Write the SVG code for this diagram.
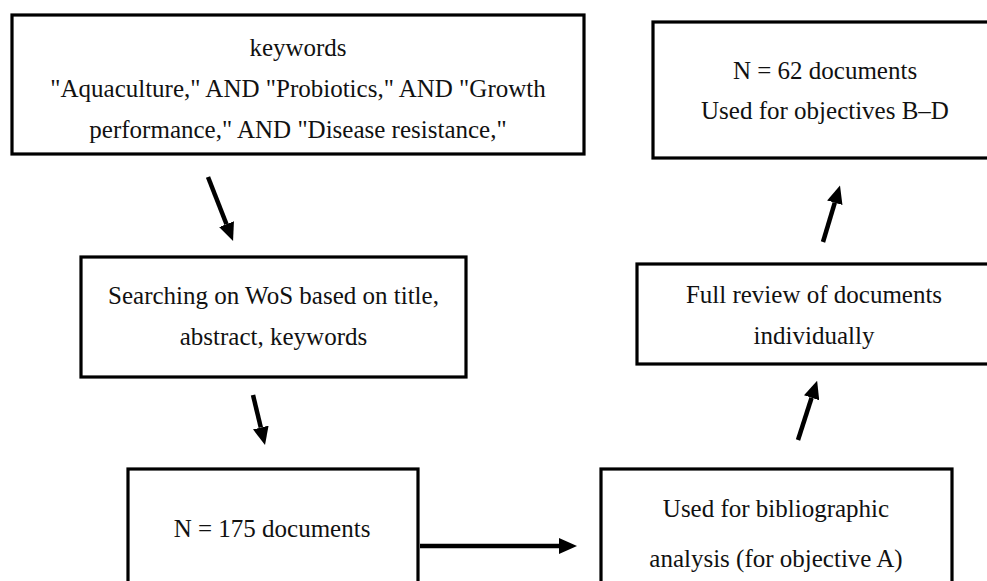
<svg xmlns="http://www.w3.org/2000/svg" width="987" height="581" viewBox="0 0 987 581">
  <style>
    .box { fill: #ffffff; stroke: #000000; stroke-width: 3.2; }
    .label { font-family: "Liberation Serif", "DejaVu Serif", serif; font-size: 25px; fill: #111111; text-anchor: middle; }
    .conn { stroke: #000000; stroke-width: 4.5; fill: none; marker-end: url(#head); }
  </style>
  <defs>
    <marker id="head" viewBox="0 0 18 16" refX="0" refY="8" markerWidth="18" markerHeight="16" markerUnits="userSpaceOnUse" orient="auto">
      <path d="M0,0 L18,8 L0,16 Z" fill="#000000"/>
    </marker>
  </defs>
  <rect width="987" height="581" fill="#ffffff"/>

  <!-- query box -->
  <g id="node-keywords">
    <rect class="box" x="12" y="15" width="572" height="139"/>
    <text class="label" x="298" y="56">keywords</text>
    <text class="label" x="298" y="97">"Aquaculture," AND "Probiotics," AND "Growth</text>
    <text class="label" x="298" y="138">performance," AND "Disease resistance,"</text>
  </g>

  <g id="node-search">
    <rect class="box" x="81" y="257" width="385" height="120"/>
    <text class="label" x="273.5" y="304">Searching on WoS based on title,</text>
    <text class="label" x="273.5" y="345">abstract, keywords</text>
  </g>

  <g id="node-n175">
    <rect class="box" x="128" y="469" width="290" height="130"/>
    <text class="label" x="272" y="537">N = 175 documents</text>
  </g>

  <g id="node-biblio">
    <rect class="box" x="601" y="469" width="351" height="130"/>
    <text class="label" x="776" y="517">Used for bibliographic</text>
    <text class="label" x="776" y="567">analysis (for objective A)</text>
  </g>

  <!-- right column boxes run past the page edge -->
  <g id="node-review">
    <rect class="box" x="637" y="264" width="360" height="100"/>
    <text class="label" x="814" y="303">Full review of documents</text>
    <text class="label" x="814" y="344">individually</text>
  </g>

  <g id="node-n62">
    <rect class="box" x="653" y="22" width="350" height="136"/>
    <text class="label" x="825" y="79">N = 62 documents</text>
    <text class="label" x="825" y="119">Used for objectives B–D</text>
  </g>

  <g id="connectors">
    <path class="conn" d="M208,177 L226.5,224.2"/>
    <path class="conn" d="M253,395 L260.8,427.5"/>
    <path class="conn" d="M420,546 L559,546"/>
    <path class="conn" d="M798,440 L811.6,397.8"/>
    <path class="conn" d="M823,242 L834.8,202.7"/>
  </g>
</svg>
